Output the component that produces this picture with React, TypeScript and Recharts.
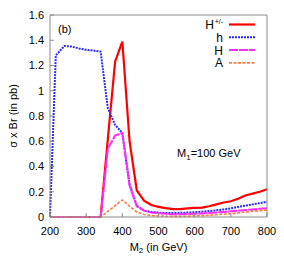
import { Line, LineChart, XAxis, YAxis } from "recharts";

// M2 in GeV
const massPoints = [
  200, 216, 240, 260, 280, 300, 320, 340, 360, 380, 400, 420, 440, 460, 480, 500,
  520, 540, 560, 580, 600, 620, 640, 660, 680, 700, 720, 740, 760, 780, 800,
];

// sigma x Br (pb)
const chargedHiggs = [
  0, 0, 0, 0, 0, 0, 0, 0, 0.62, 1.23, 1.39, 0.6, 0.21, 0.13, 0.095, 0.08,
  0.07, 0.063, 0.063, 0.068, 0.072, 0.075, 0.085, 0.1, 0.115, 0.125, 0.145, 0.17, 0.185, 0.2, 0.22,
];
const lightHiggs = [
  0, 1.28, 1.355, 1.35, 1.335, 1.325, 1.318, 1.31, 0.86, 0.73, 0.665, 0.26, 0.09, 0.05, 0.04, 0.035,
  0.032, 0.032, 0.033, 0.035, 0.038, 0.042, 0.047, 0.053, 0.06, 0.068, 0.08, 0.09, 0.1, 0.11, 0.12,
];
const heavyHiggs = [
  0, 0, 0, 0, 0, 0, 0, 0, 0.54, 0.645, 0.665, 0.25, 0.085, 0.05, 0.035, 0.03,
  0.025, 0.022, 0.022, 0.023, 0.025, 0.028, 0.032, 0.036, 0.04, 0.045, 0.05, 0.055, 0.06, 0.065, 0.07,
];
const pseudoScalar = [
  0, 0, 0, 0, 0, 0, 0, 0, 0.045, 0.09, 0.135, 0.085, 0.04, 0.02, 0.012, 0.008,
  0.006, 0.005, 0.005, 0.006, 0.008, 0.01, 0.014, 0.018, 0.022, 0.027, 0.033, 0.039, 0.045, 0.05, 0.055,
];

const xTicks = [200, 300, 400, 500, 600, 700, 800];
const yTicks = [0, 0.2, 0.4, 0.6, 0.8, 1, 1.2, 1.4, 1.6];

const data = massPoints.map((m, i) => ({
  m,
  hpm: chargedHiggs[i],
  h: lightHiggs[i],
  H: heavyHiggs[i],
  A: pseudoScalar[i],
}));

const font = "'Liberation Sans', Arial, sans-serif";
const frame = "#8a8a8a";
const tickStyle = { fontSize: 11, fill: "#000", fontFamily: font };

const legendRows = [
  { key: "hpm", label: "H", sup: "+/-", color: "#ff0000", dash: undefined, width: 2.2 },
  { key: "h", label: "h", sup: "", color: "#2b2bff", dash: "2 1", width: 2 },
  { key: "H", label: "H", sup: "", color: "#ff2bff", dash: "9 1", width: 2 },
  { key: "A", label: "A", sup: "", color: "#ff7a3c", dash: "3 1.5", width: 1.6 },
];

export default function App() {
  return (
    <div style={{ position: "absolute", left: 0, top: 0, width: 284, height: 256, background: "#fff" }}>
      <LineChart width={284} height={256} data={data} margin={{ top: 14, right: 16, left: 0, bottom: 0 }}>
        <XAxis
          type="number"
          dataKey="m"
          domain={[200, 800]}
          ticks={xTicks}
          height={39}
          tickSize={-4}
          tickMargin={14}
          stroke={frame}
          tick={tickStyle}
        />
        <XAxis
          xAxisId="top"
          orientation="top"
          type="number"
          dataKey="m"
          domain={[200, 800]}
          ticks={xTicks}
          height={1}
          tickSize={-4}
          stroke={frame}
          tick={false}
        />
        <YAxis
          type="number"
          domain={[0, 1.6]}
          ticks={yTicks}
          width={50}
          tickSize={-4}
          tickMargin={10}
          stroke={frame}
          tick={tickStyle}
          tickFormatter={(v) => String(v)}
        />
        <YAxis
          yAxisId="right"
          orientation="right"
          type="number"
          domain={[0, 1.6]}
          ticks={yTicks}
          width={1}
          tickSize={-4}
          stroke={frame}
          tick={false}
        />
        {legendRows.map((r) => (
          <Line
            key={r.key}
            type="linear"
            dataKey={r.key}
            stroke={r.color}
            strokeWidth={r.width}
            strokeDasharray={r.dash}
            dot={false}
            isAnimationActive={false}
          />
        ))}
      </LineChart>
      <svg
        width={284}
        height={256}
        style={{ position: "absolute", left: 0, top: 0, pointerEvents: "none" }}
        fontFamily={font}
      >
        <text x={58} y={33} fontSize={11}>(b)</text>
        {legendRows.map((r, i) => {
          const y = 24.5 + i * 12.8;
          return (
            <g key={r.key}>
              <text x={r.sup ? 214 : 223} y={y + 4.5} fontSize={12} textAnchor="end">
                {r.label}
              </text>
              {r.sup && (
                <text x={223} y={y - 1} fontSize={7} textAnchor="end">
                  {r.sup}
                </text>
              )}
              <line
                x1={229}
                x2={255}
                y1={y}
                y2={y}
                stroke={r.color}
                strokeWidth={r.width}
                strokeDasharray={r.dash}
              />
            </g>
          );
        })}
        <text x={177} y={157} fontSize={11}>
          M<tspan fontSize={8} dy={3}>1</tspan>
          <tspan dy={-3}>=100 GeV</tspan>
        </text>
        <text x={158.5} y={251} fontSize={11} textAnchor="middle">
          M<tspan fontSize={8} dy={2}>2</tspan>
          <tspan dy={-2}> (in GeV)</tspan>
        </text>
        <text x={17} y={116} fontSize={11} textAnchor="middle" transform="rotate(-90 17 116)">
          σ x Br (in pb)
        </text>
      </svg>
    </div>
  );
}
